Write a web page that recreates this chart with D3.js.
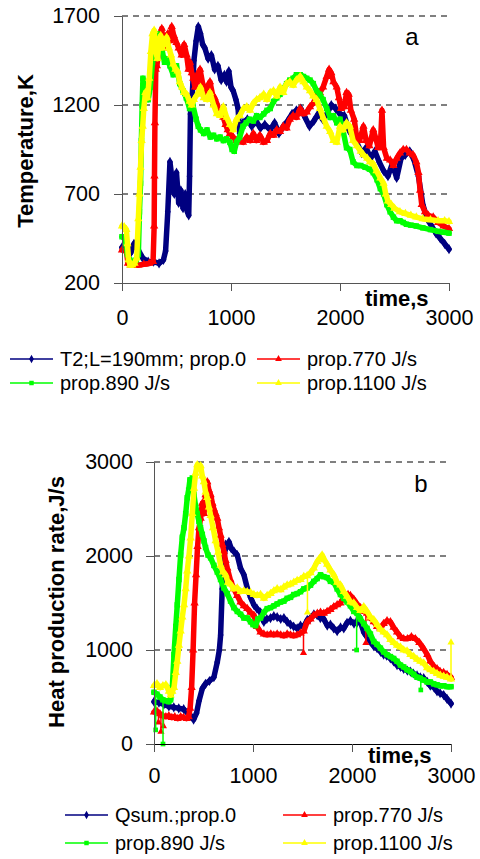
<!DOCTYPE html>
<html>
<head>
<meta charset="utf-8">
<script src="https://cdn.jsdelivr.net/npm/d3@7"></script>
<style>
  html, body { margin: 0; padding: 0; background: #fff; }
  svg { display: block; }
</style>
</head>
<body>
<svg id="chart" width="480" height="859"></svg>
<script>
// ---- Panel a: temperature, K vs time, s ----
const tempTicks = [200, 700, 1200, 1700];
const timeTicks = [0, 1000, 2000, 3000];

const tempProp0 = [[0,400],[40,385],[80,370],[110,420],[150,385],[190,340],[240,320],[290,320],[340,310],[380,330],[400,380],[420,600],[440,880],[460,780],[480,700],[500,820],[520,650],[540,720],[560,620],[580,700],[600,600],[612,580],[620,800],[628,1150],[645,1260],[660,1450],[680,1560],[700,1640],[720,1600],[740,1540],[760,1520],[790,1460],[820,1480],[850,1400],[880,1420],[910,1340],[940,1370],[960,1330],[980,1390],[1000,1300],[1020,1280],[1045,1230],[1065,1180],[1080,1040],[1110,1100],[1150,1120],[1190,1080],[1230,1110],[1270,1070],[1310,1090],[1360,1060],[1400,1100],[1440,1040],[1480,1080],[1520,1110],[1560,1150],[1600,1170],[1640,1180],[1680,1130],[1720,1080],[1760,1110],[1800,1150],[1840,1120],[1880,1150],[1920,1200],[1960,1180],[2000,1150],[2040,1140],[2080,1060],[2120,1020],[2160,980],[2200,930],[2240,960],[2280,900],[2320,940],[2360,880],[2400,830],[2440,800],[2480,870],[2520,790],[2560,900],[2600,920],[2640,940],[2680,890],[2720,800],[2760,640],[2800,560],[2840,520],[2880,480],[2920,450],[2960,420],[3000,390]];

const tempProp770 = [[0,385],[40,380],[55,310],[80,300],[110,300],[150,300],[200,305],[250,310],[285,320],[295,520],[298,800],[302,1100],[310,1400],[320,1420],[335,1500],[350,1560],[365,1630],[380,1520],[400,1580],[420,1600],[440,1560],[456,1640],[475,1590],[500,1550],[520,1520],[547,1480],[570,1540],[593,1480],[610,1400],[624,1440],[640,1380],[654,1350],[670,1300],[685,1330],[700,1380],[716,1400],[740,1320],[760,1280],[777,1260],[790,1310],[807,1330],[830,1260],[850,1240],[868,1210],[890,1170],[910,1140],[930,1130],[950,1090],[970,1060],[990,1040],[1020,1020],[1050,1000],[1080,1000],[1110,990],[1145,1020],[1175,1000],[1205,1040],[1235,1000],[1265,1030],[1300,990],[1330,1000],[1360,1040],[1390,1030],[1420,1060],[1450,1050],[1480,1080],[1510,1070],[1540,1120],[1570,1140],[1600,1130],[1635,1180],[1665,1150],[1695,1160],[1725,1190],[1755,1210],[1785,1250],[1815,1270],[1845,1300],[1878,1360],[1900,1400],[1920,1380],[1940,1330],[1970,1300],[1990,1240],[2010,1180],[2040,1190],[2060,1270],[2080,1260],[2100,1170],[2130,1120],[2155,1010],[2180,1000],[2215,1080],[2240,1000],[2270,970],[2305,1060],[2330,1010],[2350,960],[2370,960],[2385,1170],[2400,960],[2430,900],[2460,890],[2490,860],[2520,900],[2550,930],[2580,950],[2610,950],[2640,930],[2670,920],[2700,880],[2720,820],[2735,720],[2750,640],[2780,600],[2810,580],[2855,570],[2900,540],[2950,520],[3000,505]];

const tempProp890 = [[0,460],[30,445],[50,360],[70,330],[100,320],[130,330],[150,360],[160,600],[170,760],[178,1000],[185,1200],[192,1350],[205,1300],[220,1260],[240,1230],[260,1300],[280,1440],[300,1510],[320,1600],[345,1560],[370,1500],[390,1440],[410,1460],[440,1420],[470,1370],[500,1420],[530,1320],[560,1280],[590,1240],[620,1180],[650,1200],[680,1120],[700,1080],[720,1060],[750,1040],[780,1060],[810,1020],[840,1030],[870,1010],[900,1020],[930,1000],[960,1010],[990,990],[1010,950],[1030,940],[1050,990],[1080,1020],[1110,1080],[1140,1100],[1170,1120],[1205,1110],[1235,1140],[1265,1130],[1300,1150],[1330,1170],[1360,1180],[1390,1220],[1420,1240],[1450,1260],[1480,1290],[1510,1320],[1540,1340],[1570,1350],[1600,1370],[1635,1370],[1665,1360],[1695,1350],[1725,1340],[1755,1320],[1785,1280],[1815,1260],[1845,1230],[1878,1180],[1910,1130],[1940,1140],[1970,1100],[2000,1120],[2030,1050],[2060,960],[2090,950],[2120,880],[2155,860],[2190,860],[2230,850],[2270,840],[2305,820],[2340,780],[2370,730],[2400,700],[2430,640],[2460,600],[2490,570],[2520,550],[2550,550],[2580,540],[2610,530],[2650,525],[2700,520],[2760,510],[2830,500],[2900,490],[2950,485],[3000,480]];

const tempProp1100 = [[0,520],[20,515],[40,500],[50,420],[60,330],[75,300],[95,300],[115,310],[135,340],[150,560],[160,700],[170,850],[180,1000],[190,1080],[200,1180],[215,1270],[235,1240],[250,1350],[265,1500],[280,1600],[295,1620],[310,1500],[325,1460],[340,1560],[355,1590],[370,1520],[390,1560],[410,1580],[430,1520],[450,1480],[470,1430],[490,1400],[510,1390],[530,1330],[550,1300],[570,1270],[593,1260],[620,1220],[640,1200],[660,1230],[690,1260],[720,1300],[750,1240],[780,1230],[807,1270],[840,1200],[870,1150],[900,1140],[930,1190],[960,1130],[990,1090],[1020,1060],[1050,1120],[1080,1140],[1115,1180],[1145,1190],[1175,1170],[1205,1210],[1235,1230],[1265,1240],[1300,1260],[1330,1230],[1360,1270],[1390,1280],[1420,1250],[1450,1300],[1480,1270],[1510,1320],[1540,1330],[1570,1310],[1600,1340],[1635,1360],[1665,1330],[1695,1300],[1725,1280],[1755,1250],[1785,1230],[1815,1180],[1845,1130],[1878,1080],[1910,1050],[1940,1000],[1970,990],[2000,1080],[2030,1060],[2060,1100],[2090,1080],[2120,1000],[2155,970],[2190,940],[2215,920],[2250,900],[2275,880],[2305,870],[2335,830],[2370,790],[2400,760],[2420,700],[2440,660],[2470,640],[2500,620],[2550,600],[2600,590],[2650,580],[2700,570],[2760,560],[2830,555],[2900,550],[2960,550],[3000,545]];

// ---- Panel b: heat production rate, J/s vs time, s ----
const heatTicks = [0, 1000, 2000, 3000];

const qsumProp0 = [[0,450],[50,440],[100,420],[150,400],[200,390],[250,380],[300,370],[340,330],[370,300],[400,260],[430,330],[455,460],[488,590],[520,640],[560,670],[605,710],[639,870],[660,1000],[673,1160],[689,1650],[705,1950],[723,2120],[740,2100],[757,2150],[780,2080],[807,2050],[841,2010],[874,1870],[908,1800],[942,1660],[975,1560],[1009,1480],[1040,1440],[1076,1400],[1110,1300],[1140,1330],[1177,1340],[1210,1360],[1244,1350],[1280,1330],[1312,1340],[1345,1300],[1379,1270],[1410,1250],[1446,1230],[1480,1260],[1513,1250],[1548,1320],[1581,1340],[1615,1380],[1648,1370],[1680,1340],[1715,1330],[1750,1260],[1782,1270],[1815,1230],[1850,1200],[1884,1240],[1917,1230],[1950,1290],[1984,1310],[2020,1280],[2051,1290],[2070,1360],[2085,1300],[2119,1190],[2150,1140],[2186,1090],[2220,1040],[2253,1020],[2290,980],[2320,950],[2350,940],[2388,910],[2420,880],[2455,840],[2490,820],[2522,800],[2560,780],[2590,770],[2620,750],[2657,730],[2690,710],[2724,700],[2760,660],[2791,620],[2830,600],[2859,560],[2890,540],[2926,520],[2960,480],[3000,430]];

const qsumProp770 = [[0,340],[30,350],[60,320],[90,300],[120,290],[150,300],[180,280],[210,290],[240,270],[270,290],[300,280],[330,270],[350,290],[365,380],[380,600],[395,1000],[410,1500],[425,1800],[440,2100],[455,2300],[471,2400],[488,2560],[505,2450],[521,2650],[538,2790],[555,2700],[572,2650],[590,2560],[605,2500],[622,2450],[639,2400],[656,2300],[673,2220],[690,2120],[706,2050],[723,1950],[740,1870],[770,1750],[807,1650],[840,1580],[874,1510],[908,1470],[942,1440],[975,1400],[1009,1370],[1040,1250],[1076,1190],[1110,1170],[1143,1160],[1180,1170],[1210,1160],[1244,1170],[1280,1160],[1312,1150],[1345,1170],[1379,1160],[1410,1150],[1446,1160],[1480,1180],[1513,1200],[1547,1300],[1581,1330],[1614,1370],[1650,1390],[1682,1400],[1715,1390],[1749,1410],[1782,1430],[1816,1460],[1850,1480],[1883,1500],[1910,1550],[1934,1570],[1960,1590],[1984,1580],[2018,1540],[2050,1490],[2085,1450],[2119,1410],[2152,1390],[2186,1340],[2220,1300],[2253,1250],[2287,1230],[2320,1280],[2354,1310],[2388,1300],[2420,1240],[2455,1190],[2490,1140],[2522,1120],[2560,1120],[2600,1140],[2640,1120],[2680,1080],[2720,1020],[2760,950],[2791,880],[2830,820],[2859,800],[2890,770],[2926,760],[2960,740],[3000,710]];

const qsumProp890 = [[0,550],[30,530],[60,500],[90,470],[120,460],[150,450],[168,470],[185,600],[202,950],[220,1250],[235,1480],[252,1750],[269,2010],[286,2200],[303,2300],[320,2450],[336,2620],[350,2700],[363,2810],[375,2780],[387,2830],[404,2650],[420,2530],[437,2450],[454,2370],[470,2300],[488,2230],[505,2160],[521,2090],[546,2010],[572,1980],[605,1900],[639,1830],[672,1750],[706,1660],[740,1600],[773,1520],[807,1450],[841,1410],[875,1380],[908,1340],[942,1340],[975,1300],[1000,1270],[1026,1260],[1050,1330],[1076,1340],[1110,1400],[1143,1440],[1177,1450],[1211,1470],[1244,1490],[1278,1510],[1312,1520],[1345,1550],[1379,1560],[1412,1590],[1446,1600],[1480,1620],[1513,1650],[1547,1660],[1581,1690],[1614,1730],[1648,1760],[1682,1800],[1715,1780],[1749,1770],[1782,1730],[1816,1720],[1850,1650],[1883,1590],[1917,1550],[1950,1510],[1984,1470],[2018,1410],[2051,1390],[2085,1330],[2119,1280],[2152,1230],[2186,1170],[2220,1090],[2253,1060],[2287,1020],[2320,980],[2354,950],[2388,930],[2421,910],[2455,880],[2489,840],[2522,820],[2556,790],[2590,770],[2623,740],[2657,710],[2690,700],[2724,680],[2758,660],[2791,660],[2825,640],[2859,630],[2892,620],[2926,620],[2960,610],[3000,610]];

const qsumProp1100 = [[0,620],[30,640],[60,600],[90,620],[120,630],[151,560],[168,520],[185,560],[202,600],[220,760],[235,880],[252,1050],[269,1200],[286,1350],[303,1480],[320,1650],[336,1840],[353,2000],[370,2190],[387,2450],[404,2720],[420,2880],[437,2970],[454,2930],[471,2960],[488,2850],[504,2790],[521,2680],[538,2620],[555,2520],[572,2430],[597,2300],[622,2160],[648,2040],[673,1900],[698,1830],[723,1800],[748,1720],[773,1700],[807,1650],[841,1660],[875,1620],[908,1630],[942,1620],[975,1610],[1009,1590],[1043,1580],[1076,1590],[1110,1550],[1143,1580],[1177,1600],[1211,1630],[1244,1650],[1278,1640],[1312,1670],[1345,1690],[1379,1700],[1412,1720],[1446,1740],[1480,1750],[1513,1780],[1547,1790],[1581,1820],[1614,1870],[1648,1940],[1670,1970],[1698,2010],[1720,1960],[1749,1910],[1782,1850],[1816,1800],[1850,1720],[1883,1690],[1917,1620],[1950,1570],[1984,1510],[2018,1500],[2051,1450],[2085,1420],[2119,1460],[2152,1410],[2186,1350],[2220,1320],[2253,1270],[2287,1220],[2320,1190],[2354,1160],[2388,1110],[2421,1080],[2455,1050],[2489,1030],[2522,1000],[2556,990],[2590,950],[2623,930],[2657,900],[2690,880],[2724,860],[2758,810],[2791,790],[2825,770],[2859,750],[2892,730],[2926,720],[2960,710],[3000,690]];

// Single stray readings: [time, from, to]
const spikesQ0 = [];
const spikesQ770 = [[45,320,230],[70,300,130],[95,290,190],[1510,1180,970],[2140,1400,1075]];
const spikesQ890 = [[17,530,150],[91,470,0],[2047,1390,1000],[2695,700,575]];
const spikesQ1100 = [[1550,1760,1400],[3000,690,1080]];

const seriesNamesA = ["T2;L=190mm; prop.0", "prop.770 J/s", "prop.890 J/s", "prop.1100 J/s"];
const seriesNamesB = ["Qsum.;prop.0", "prop.770 J/s", "prop.890 J/s", "prop.1100 J/s"];
const seriesColors = ["#000080", "#ff0000", "#00ff00", "#ffff00"];
const seriesSymbols = [d3.symbolDiamond, d3.symbolTriangle, d3.symbolSquare, d3.symbolTriangle];

const FONT = "'Liberation Sans', Arial, Helvetica, sans-serif";
const svg = d3.select("#chart");

function drawPanel(cfg) {
  const g = svg.append("g");
  const x = d3.scaleLinear().domain([0, 3000]).range([cfg.left, cfg.right]);
  const y = d3.scaleLinear().domain(cfg.yDomain).range([cfg.bottom, cfg.top]);

  // dashed gridlines
  g.append("g").selectAll("line")
    .data(cfg.yTicks.filter(v => v !== cfg.yDomain[0]))
    .join("line")
    .attr("x1", cfg.left).attr("x2", cfg.right)
    .attr("y1", d => y(d)).attr("y2", d => y(d))
    .attr("stroke", "#000").attr("stroke-width", 1)
    .attr("stroke-dasharray", "6,5");

  // series: thin stray readings, then the dense marker band
  const line = d3.line().x(d => x(d[0])).y(d => y(d[1]));
  cfg.series.forEach((s, i) => {
    const col = seriesColors[i];
    const sg = g.append("g");
    (cfg.spikes[i] || []).forEach(sp => {
      sg.append("line")
        .attr("x1", x(sp[0])).attr("x2", x(sp[0]))
        .attr("y1", y(sp[1])).attr("y2", y(sp[2]))
        .attr("stroke", col).attr("stroke-width", 1.5);
      sg.append("path")
        .attr("d", d3.symbol(seriesSymbols[i], 22)())
        .attr("transform", `translate(${x(sp[0])},${y(sp[2])})`)
        .attr("fill", col);
    });
    sg.append("path")
      .datum(s)
      .attr("d", line)
      .attr("fill", "none")
      .attr("stroke", col)
      .attr("stroke-width", 5.5)
      .attr("stroke-linejoin", "round")
      .attr("stroke-linecap", "round");
    sg.selectAll("path.m")
      .data(s)
      .join("path")
      .attr("class", "m")
      .attr("d", d3.symbol(seriesSymbols[i], 30)())
      .attr("transform", d => `translate(${x(d[0])},${y(d[1])})`)
      .attr("fill", col);
  });

  // axes
  const yAxis = g.append("g")
    .attr("transform", `translate(${cfg.left},0)`)
    .call(d3.axisLeft(y).tickValues(cfg.yTicks).tickSize(8).tickSizeOuter(0).tickPadding(cfg.yPad).tickFormat(d3.format("d")));
  yAxis.select(".domain").attr("stroke", "#555");
  yAxis.selectAll(".tick line").attr("stroke", "#555");
  yAxis.selectAll("text").attr("font-family", FONT).attr("font-size", 21.5).attr("fill", "#000");

  const xAxis = g.append("g")
    .attr("transform", `translate(0,${cfg.bottom})`)
    .call(d3.axisBottom(x).tickValues(timeTicks).tickSize(8).tickSizeOuter(0).tickPadding(cfg.xPad).tickFormat(d3.format("d")));
  xAxis.select(".domain").attr("stroke", cfg.xAxisColor);
  xAxis.selectAll(".tick line").attr("stroke", "#555");
  xAxis.selectAll("text").attr("font-family", FONT).attr("font-size", 21.5).attr("fill", "#000");

  // axis titles
  g.append("text")
    .attr("x", cfg.timeX).attr("y", cfg.timeY)
    .attr("font-family", FONT).attr("font-size", 22).attr("font-weight", "bold")
    .text("time,s");
  g.append("text")
    .attr("transform", `translate(${cfg.titleX},${cfg.titleY}) rotate(-90)`)
    .attr("text-anchor", "middle")
    .attr("font-family", FONT).attr("font-size", 22).attr("font-weight", "bold")
    .text(cfg.yTitle);
  g.append("text")
    .attr("x", cfg.tagX).attr("y", cfg.tagY)
    .attr("text-anchor", "middle")
    .attr("font-family", FONT).attr("font-size", 24)
    .text(cfg.tag);

  // legend
  const lg = g.append("g");
  cfg.names.forEach((name, i) => {
    const col = i % 2, row = Math.floor(i / 2);
    const lx = cfg.legendX[col], ly = cfg.legendY[row];
    lg.append("line")
      .attr("x1", lx).attr("x2", lx + 43)
      .attr("y1", ly).attr("y2", ly)
      .attr("stroke", seriesColors[i]).attr("stroke-width", 1.5);
    lg.append("path")
      .attr("d", d3.symbol(seriesSymbols[i], 20)())
      .attr("transform", `translate(${lx + 21.5},${ly})`)
      .attr("fill", seriesColors[i]);
    lg.append("text")
      .attr("x", lx + 50).attr("y", ly + 7)
      .attr("font-family", FONT).attr("font-size", 20)
      .text(name);
  });
}

drawPanel({
  left: 122, right: 449, top: 16, bottom: 283,
  yDomain: [200, 1700], yTicks: tempTicks, yPad: 14, xPad: 19,
  xAxisColor: "#555",
  series: [tempProp0, tempProp770, tempProp890, tempProp1100],
  spikes: [],
  timeX: 365, timeY: 306,
  titleX: 33, titleY: 151, yTitle: "Temperature,K",
  tagX: 412, tagY: 45, tag: "a",
  names: seriesNamesA, legendX: [10, 257], legendY: [359, 383]
});

drawPanel({
  left: 154, right: 451, top: 462, bottom: 744,
  yDomain: [0, 3000], yTicks: heatTicks, yPad: 13, xPad: 16,
  xAxisColor: "#000",
  series: [qsumProp0, qsumProp770, qsumProp890, qsumProp1100],
  spikes: [spikesQ0, spikesQ770, spikesQ890, spikesQ1100],
  timeX: 368, timeY: 763,
  titleX: 64, titleY: 602, yTitle: "Heat production rate,J/s",
  tagX: 421, tagY: 492, tag: "b",
  names: seriesNamesB, legendX: [65, 283], legendY: [815, 843]
});
</script>
</body>
</html>
